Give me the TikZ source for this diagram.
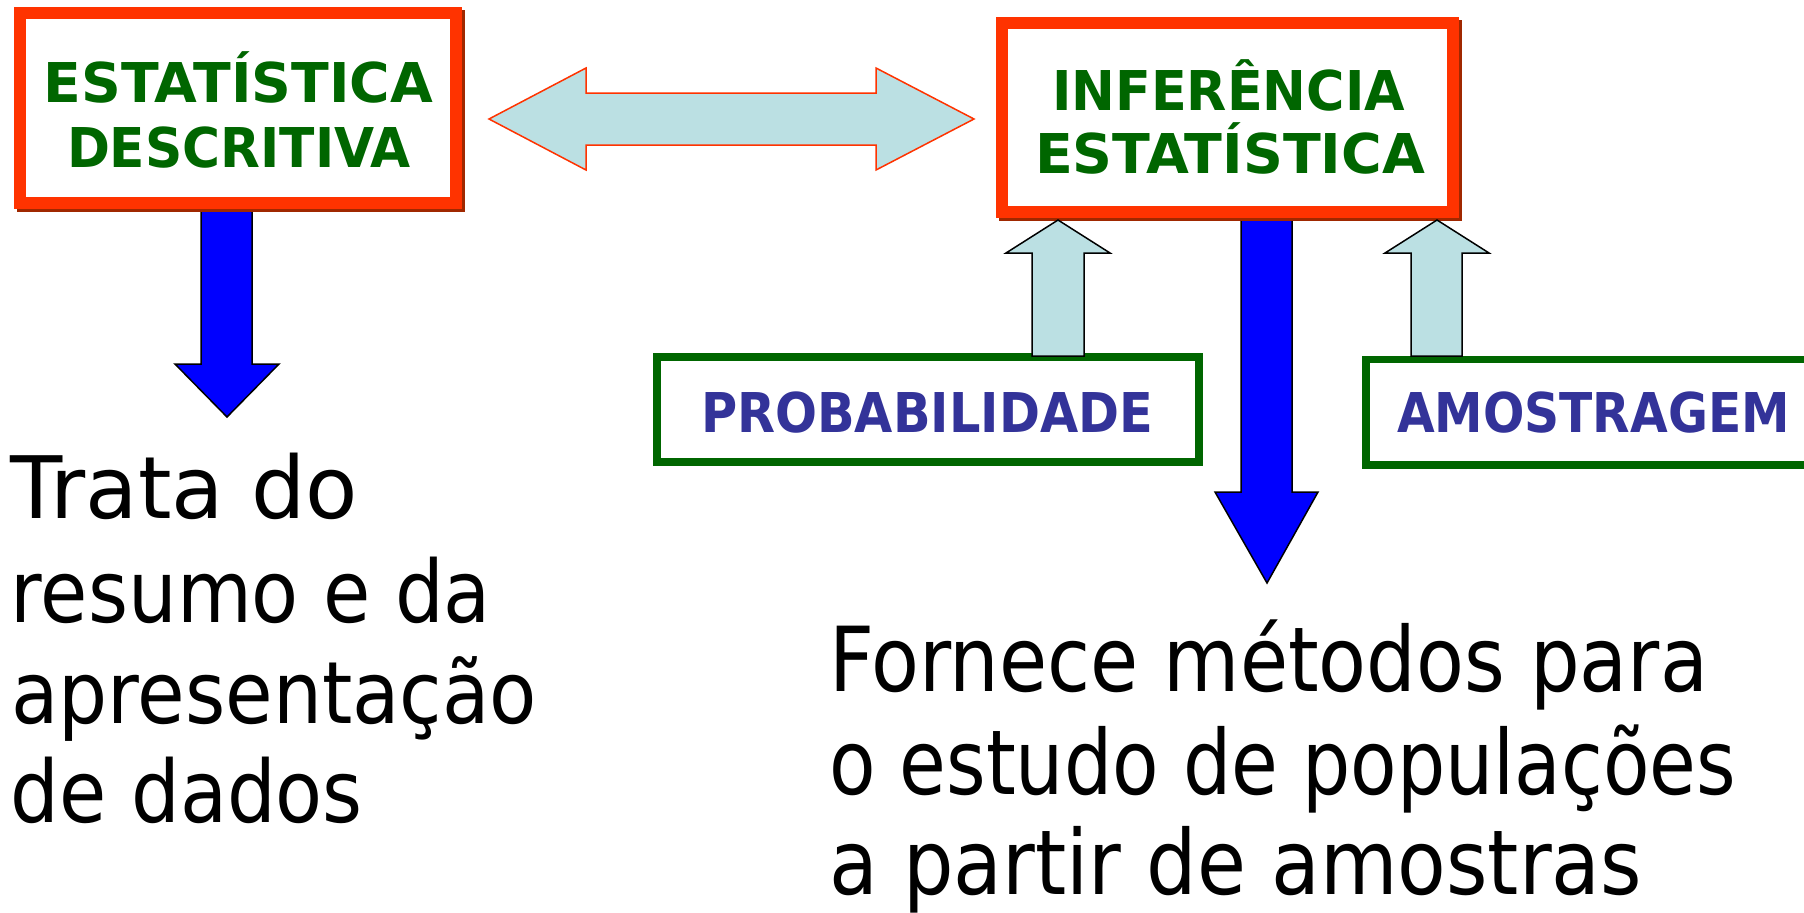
\documentclass[tikz,border=0pt]{standalone}
\usepackage{fontspec}
\setmainfont{DejaVu Sans}
\usepackage{graphicx}
\newlength\pxu
\setlength\pxu{0.01cm}
\definecolor{redb}{HTML}{FF3300}
\definecolor{shad}{HTML}{A02800}
\definecolor{greenb}{HTML}{006600}
\definecolor{bluet}{HTML}{333399}
\definecolor{lblue}{HTML}{BBE0E3}
\definecolor{arrblue}{HTML}{0000FF}
\newcommand\fitline[2]{\resizebox{#1\pxu}{\height}{#2}}
\tikzset{
  lbl/.style={anchor=base west, inner sep=0pt, outer sep=0pt},
  boxlbl/.style={lbl, font=\fontsize{15.6}{18}\selectfont\bfseries},
  bigtxt/.style={lbl, font=\fontsize{24.5}{28}\selectfont, text=black},
  redbox/.style={draw=redb, line width=12\pxu, fill=white, inner sep=0pt},
  shadowbox/.style={draw=shad, line width=12\pxu},
  greenbox/.style={draw=greenb, line width=7.3\pxu, fill=white, inner sep=0pt},
  lightarrow/.style={fill=lblue, draw=black, line width=1.5\pxu, line join=miter},
  bluearrow/.style={fill=arrblue, draw=black, line width=1.5\pxu, line join=miter},
  dblarrow/.style={fill=lblue, draw=redb, line width=1.5\pxu, line join=miter}
}
\begin{document}
\begin{tikzpicture}[x=0.01cm,y=-0.01cm]
\useasboundingbox (0,0) rectangle (1804,912);
\clip (0,0) rectangle (1804,912);
\fill[white] (0,0) rectangle (1804,912);

% blue arrows (beneath boxes)
\coordinate (bl1) at (201,205);
\draw[bluearrow] (bl1) -- (252,205) -- (252,364) -- (279,364) -- (227,417) -- (175,364) -- (201,364) -- cycle;
\coordinate (bl2) at (1241,212);
\draw[bluearrow] (bl2) -- (1292,212) -- (1292,492) -- (1318,492) -- (1267,583) -- (1215,492) -- (1241,492) -- cycle;

% red boxes with shadow
\draw[shadowbox] (23,15.5) rectangle (459,205.5);
\node[redbox, minimum width=436\pxu, minimum height=190\pxu] (desc) at (238,107.5) {};
\draw[shadowbox] (1005,26) rectangle (1456,215);
\node[redbox, minimum width=451\pxu, minimum height=189\pxu] (infer) at (1227.5,117.5) {};

% green boxes
\node[greenbox, minimum width=542\pxu, minimum height=105\pxu] (prob) at (928,409.5) {};
\node[greenbox, minimum width=446\pxu, minimum height=105.5\pxu] (amos) at (1589,412.25) {};

% double arrow
\draw[dblarrow] (489,119) -- (586,68) -- (586,93) -- (876,93) -- (876,68) -- (974,119) -- (876,170) -- (876,145) -- (586,145) -- (586,170) -- cycle;

% up arrows
\draw[lightarrow] (1032,356) -- (1032,253) -- (1006,253) -- (1058,220) -- (1110,253) -- (1084,253) -- (1084,356) -- cycle;
\draw[lightarrow] (1411,356) -- (1411,253) -- (1385,253) -- (1437,220) -- (1489,253) -- (1462,253) -- (1462,356) -- cycle;

% box labels
\node[boxlbl, text=greenb] (d1) at (44,102) {\fitline{389}{ESTATÍSTICA}};
\node[boxlbl, text=greenb] (d2) at (67,167) {\fitline{344}{DESCRITIVA}};
\node[boxlbl, text=greenb] (i1) at (1052,110) {\fitline{353}{INFERÊNCIA}};
\node[boxlbl, text=greenb] (i2) at (1035,173) {\fitline{390}{ESTATÍSTICA}};
\node[boxlbl, text=bluet] (p1) at (701,432) {\fitline{452}{PROBABILIDADE}};
\node[boxlbl, text=bluet] (a1) at (1397,432) {\fitline{393}{AMOSTRAGEM}};

% descriptive text
\node[bigtxt] (t1) at (11,518) {\fitline{347}{Trata do}};
\node[bigtxt] (t2) at (11,622) {\fitline{480}{resumo e da}};
\node[bigtxt] (t3) at (11,723) {\fitline{526}{apresentação}};
\node[bigtxt] (t4) at (11,822) {\fitline{352}{de dados}};

% inference text
\node[bigtxt, font=\fontsize{25.5}{28}\selectfont] (f1) at (829,691) {\fitline{879}{Fornece métodos para}};
\node[bigtxt, font=\fontsize{25.5}{28}\selectfont] (f2) at (829,794) {\fitline{907}{o estudo de populações}};
\node[bigtxt, font=\fontsize{25.5}{28}\selectfont] (f3) at (829,894) {\fitline{813}{a partir de amostras}};
\end{tikzpicture}
\end{document}
